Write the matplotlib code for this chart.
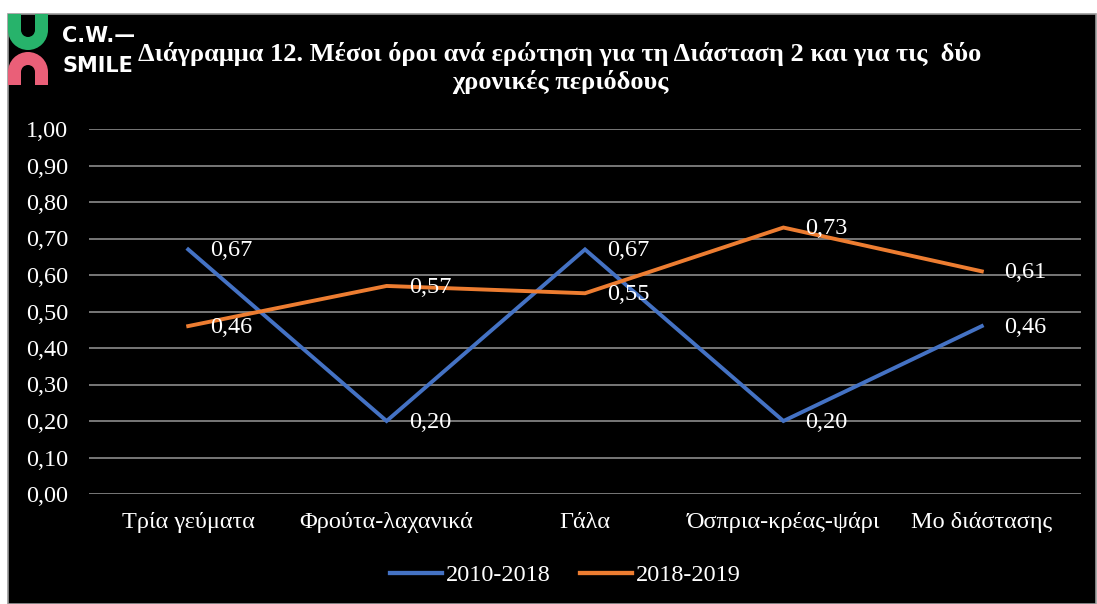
import matplotlib
matplotlib.use("Agg")
import matplotlib.pyplot as plt
from matplotlib.patches import Rectangle, Wedge
from matplotlib.lines import Line2D

categories = ["Τρία γεύματα", "Φρούτα-λαχανικά", "Γάλα", "Όσπρια-κρέας-ψάρι", "Μο διάστασης"]
series_2010_2018 = [0.67, 0.20, 0.67, 0.20, 0.46]
series_2018_2019 = [0.46, 0.57, 0.55, 0.73, 0.61]
series_names = ["2010-2018", "2018-2019"]
y_ticks = [0.0, 0.1, 0.2, 0.3, 0.4, 0.5, 0.6, 0.7, 0.8, 0.9, 1.0]
title = "Διάγραμμα 12. Μέσοι όροι ανά ερώτηση για τη Διάσταση 2 και για τις  δύο\nχρονικές περιόδους"

W, H = 1097, 604
SERIF = ["Liberation Serif", "DejaVu Serif"]
FS = 17.5
LW = 2.8
fig = plt.figure(figsize=(W / 100, H / 100), dpi=100, facecolor="white")

# background / logo layer in pixel coordinates
bg = fig.add_axes([0, 0, 1, 1], zorder=0)
bg.set_xlim(0, W)
bg.set_ylim(H, 0)
bg.axis("off")
bg.add_patch(Rectangle((8, 14), W - 9, H - 14, facecolor="black", edgecolor="#9a9a9a", linewidth=1.2))

green = "#27b36b"
pink = "#ea5f78"
RW = 13
# green U
bg.add_patch(Wedge((28, 30), 20, 0, 180, width=RW, facecolor=green, edgecolor="none"))
bg.add_patch(Rectangle((8, 14), RW, 16, facecolor=green, edgecolor="none"))
bg.add_patch(Rectangle((48 - RW, 14), RW, 16, facecolor=green, edgecolor="none"))
# pink arch
bg.add_patch(Wedge((28, 72), 20, 180, 360, width=RW, facecolor=pink, edgecolor="none"))
bg.add_patch(Rectangle((8, 72), RW, 13, facecolor=pink, edgecolor="none"))
bg.add_patch(Rectangle((48 - RW, 72), RW, 13, facecolor=pink, edgecolor="none"))
bg.text(62, 36, "C.W.—", color="white", fontsize=15, fontweight="bold",
        family=["DejaVu Sans"], va="center", ha="left")
bg.text(62, 66, "SMILE", color="white", fontsize=15, fontweight="bold",
        family=["DejaVu Sans"], va="center", ha="left")
bg.text(560, 68, title, color="white", fontsize=19, fontweight="bold", family=SERIF,
        ha="center", va="center", linespacing=1.25)

# main axes
left, right, top, bottom = 89, 1081, 129, 494
ax = fig.add_axes([left / W, 1 - bottom / H, (right - left) / W, (bottom - top) / H], zorder=1)
ax.set_facecolor("none")
x = list(range(len(categories)))
ax.plot(x, series_2010_2018, color="#4472C4", linewidth=LW, solid_joinstyle="miter", zorder=3)
ax.plot(x, series_2018_2019, color="#ED7D31", linewidth=LW, solid_joinstyle="miter", zorder=3)
for ys in (series_2010_2018, series_2018_2019):
    for xi, yi in zip(x, ys):
        ax.annotate(f"{yi:.2f}".replace(".", ","), (xi, yi), xytext=(16, -1), textcoords="offset points",
                    color="white", fontsize=FS, family=SERIF, va="center", ha="left", zorder=4)

ax.set_xlim(-0.5, len(categories) - 0.5)
ax.set_ylim(0, 1.0)
ax.set_yticks(y_ticks)
ax.set_yticklabels([f"{v:.2f}".replace(".", ",") for v in y_ticks], family=SERIF, fontsize=FS, color="white")
ax.set_xticks(x)
ax.set_xticklabels(categories, family=SERIF, fontsize=FS, color="white")
ax.tick_params(axis="y", length=0, pad=15)
ax.tick_params(axis="x", length=0, pad=13)
ax.grid(axis="y", color="#8c8c8c", linewidth=1.2)
ax.set_axisbelow(True)
for s in ax.spines.values():
    s.set_visible(False)

handles = [Line2D([], [], color="#4472C4", linewidth=LW + 0.3), Line2D([], [], color="#ED7D31", linewidth=LW + 0.3)]
fig.legend(handles, series_names, loc="center", bbox_to_anchor=(565 / W, 1 - 575 / H), ncol=2,
           frameon=False, prop={"family": SERIF, "size": FS}, handlelength=2.15,
           handletextpad=0.15, columnspacing=1.2, labelcolor="white")

fig.savefig("out.png", dpi=100, facecolor="white")
